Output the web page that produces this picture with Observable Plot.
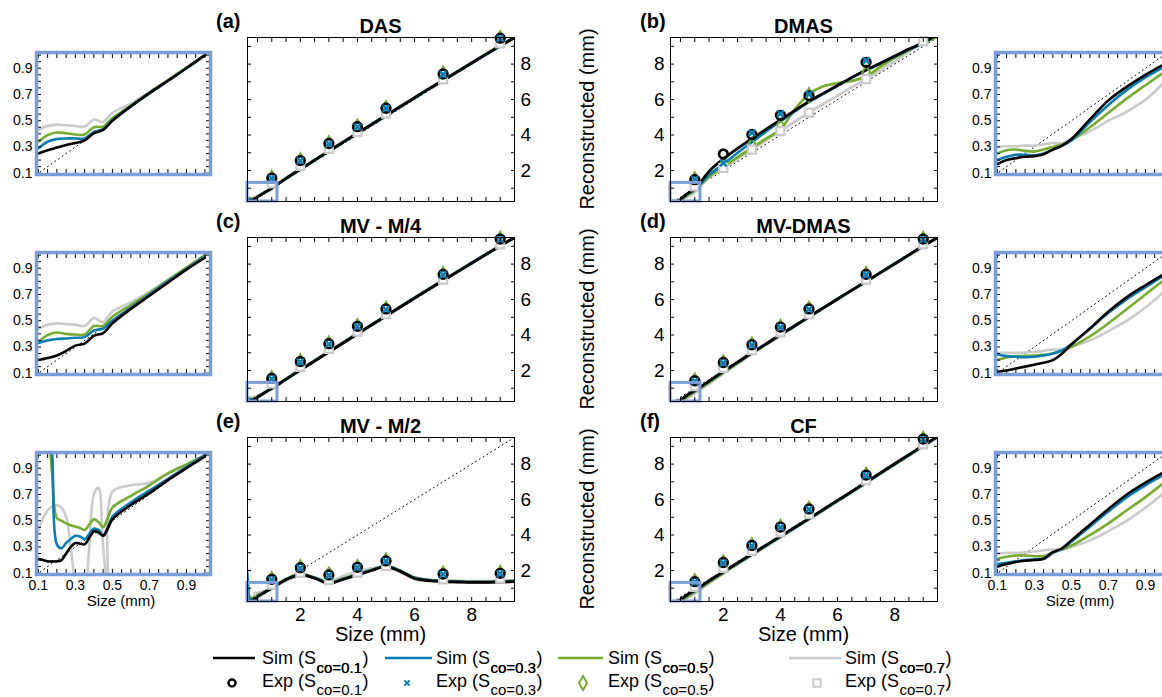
<!DOCTYPE html>
<html><head><meta charset="utf-8">
<script src="https://cdn.jsdelivr.net/npm/d3@7"></script>
<script src="https://cdn.jsdelivr.net/npm/@observablehq/plot@0.6"></script>
<style>
html,body{margin:0;padding:0;background:#fff;overflow:hidden;}
#fig{position:relative;width:1162px;height:697px;overflow:hidden;background:#fff;}
#fig > svg{position:absolute;}
</style></head><body><div id="fig"></div><script>
// ---------------- DATA ----------------
const seriesLabels = ["0.1","0.3","0.5","0.7"];
const panelLetters = ["(a)","(b)","(c)","(d)","(e)","(f)"];
const panelTitles = ["DAS","DMAS","MV - M/4","MV-DMAS","MV - M/2","CF"];
const expX = [1,2,3,4,5,7,9];
const insetX = [0.1,0.15,0.2,0.25,0.3,0.35,0.4,0.45,0.5,0.6,0.7,0.8,0.9,1.0];
const insetXFine = [0.1,0.125,0.15,0.175,0.2,0.225,0.25,0.275,0.3,0.325,0.35,0.375,0.4,0.425,0.45,0.475,0.5,0.6,0.7,0.8,0.9,1.0];
const mainX = [1.5,2,2.5,3,3.5,4,4.5,5,5.5,6,6.5,7,7.5,8,8.5,9,9.5];
const mainTicks = [2,4,6,8];
const insetTicks = [0.1,0.3,0.5,0.7,0.9];
const refMain = [0.1, 9.5];
const refInset = [0.09, 1.03];
const zoomBox = [{x1: 0.15, x2: 1.2, y1: 0.25, y2: 1.3}];

// DAS (a)
const dasInset = [
 [0.25,0.275,0.295,0.315,0.33,0.35,0.405,0.43,0.5,0.61,0.71,0.805,0.9,1.0],
 [0.29,0.34,0.36,0.365,0.365,0.365,0.415,0.435,0.505,0.61,0.71,0.805,0.9,1.0],
 [0.34,0.39,0.41,0.405,0.395,0.395,0.45,0.455,0.52,0.615,0.715,0.81,0.905,1.0],
 [0.43,0.46,0.47,0.465,0.46,0.455,0.51,0.49,0.56,0.63,0.72,0.81,0.905,1.0]];
const dasMain = [
 [1.55,2.07,2.58,3.09,3.6,4.1,4.6,5.1,5.6,6.1,6.6,7.08,7.57,8.06,8.55,9.03,9.5],
 [1.54,2.06,2.57,3.08,3.59,4.09,4.59,5.09,5.59,6.09,6.59,7.07,7.56,8.05,8.54,9.02,9.5],
 [1.56,2.08,2.59,3.1,3.61,4.11,4.61,5.11,5.61,6.11,6.6,7.09,7.58,8.07,8.56,9.04,9.51],
 [1.58,2.1,2.6,3.11,3.62,4.12,4.62,5.12,5.62,6.12,6.61,7.1,7.59,8.08,8.57,9.05,9.52]];
const dasExp = [
 [1.57,2.56,3.52,4.47,5.51,7.44,9.46],
 [1.55,2.55,3.5,4.46,5.5,7.42,9.45],
 [1.6,2.59,3.55,4.5,5.54,7.47,9.49],
 [1.27,2.26,3.22,4.17,5.21,7.14,9.16]];

// DMAS (b)
const dmasInset = [
 [0.17,0.2,0.215,0.225,0.23,0.245,0.28,0.31,0.36,0.51,0.655,0.76,0.85,0.93],
 [0.2,0.225,0.24,0.24,0.235,0.25,0.28,0.31,0.35,0.49,0.62,0.735,0.83,0.91],
 [0.25,0.275,0.28,0.27,0.265,0.28,0.3,0.32,0.35,0.45,0.56,0.67,0.77,0.87],
 [0.3,0.305,0.305,0.31,0.31,0.32,0.33,0.33,0.36,0.42,0.5,0.57,0.66,0.79]];
const dmasMain = [
 [1.95,2.65,3.25,3.8,4.33,4.85,5.38,5.9,6.35,6.8,7.25,7.67,8.05,8.45,8.85,9.2,9.7],
 [1.75,2.35,3.0,3.6,4.2,4.78,5.33,5.87,6.33,6.78,7.23,7.65,8.03,8.43,8.83,9.18,9.68],
 [1.65,2.2,2.75,3.27,3.8,4.32,5.45,6.3,6.75,6.92,7.05,7.3,7.85,8.35,8.8,9.2,9.52],
 [1.6,2.14,2.65,3.18,3.7,4.22,4.75,5.26,5.75,6.22,6.7,7.15,7.65,8.15,8.7,9.29,9.75]];
const dmasExp = [
 [1.48,2.93,4.03,5.11,6.21,8.1,null],
 [1.5,2.42,4.12,5.2,6.3,8.2,null],
 [1.52,2.34,3.47,4.51,6.25,7.54,null],
 [1.1,2.14,3.18,4.22,5.26,7.15,9.29]];

// MV - M/4 (c)
const mv4Inset = [
 [0.2,0.215,0.235,0.27,0.31,0.325,0.385,0.405,0.48,0.59,0.69,0.79,0.89,0.98],
 [0.33,0.35,0.36,0.365,0.37,0.375,0.425,0.44,0.5,0.6,0.7,0.8,0.895,0.99],
 [0.34,0.39,0.41,0.4,0.395,0.395,0.46,0.46,0.53,0.62,0.71,0.81,0.905,1.0],
 [0.44,0.47,0.48,0.475,0.47,0.46,0.52,0.49,0.57,0.64,0.72,0.81,0.905,1.0]];
const mv4Main = [
 [1.5,2.02,2.53,3.04,3.55,4.06,4.57,5.07,5.58,6.08,6.58,7.07,7.56,8.05,8.54,9.02,9.5],
 [1.51,2.03,2.54,3.05,3.56,4.07,4.58,5.08,5.59,6.09,6.59,7.08,7.57,8.06,8.55,9.03,9.5],
 [1.53,2.05,2.56,3.07,3.58,4.08,4.59,5.09,5.6,6.1,6.6,7.09,7.58,8.07,8.56,9.04,9.51],
 [1.55,2.07,2.58,3.09,3.6,4.1,4.6,5.1,5.61,6.11,6.61,7.1,7.59,8.08,8.57,9.05,9.52]];
const mv4Exp = [
 [1.55,2.5,3.51,4.49,5.47,7.42,9.41],
 [1.53,2.48,3.49,4.47,5.45,7.4,9.39],
 [1.58,2.53,3.54,4.52,5.5,7.45,9.44],
 [1.25,2.2,3.21,4.19,5.17,7.12,9.11]];

// MV-DMAS (d)
const mvdInset = [
 [0.11,0.12,0.135,0.15,0.165,0.18,0.2,0.25,0.32,0.44,0.57,0.68,0.77,0.855],
 [0.245,0.23,0.225,0.222,0.225,0.235,0.25,0.275,0.32,0.44,0.56,0.665,0.755,0.845],
 [0.2,0.22,0.23,0.232,0.235,0.24,0.25,0.27,0.3,0.38,0.48,0.59,0.7,0.81],
 [0.255,0.255,0.256,0.258,0.262,0.27,0.28,0.28,0.3,0.35,0.42,0.5,0.6,0.72]];
const mvdMain = [
 [1.4,1.95,2.47,3.0,3.5,4.02,4.52,5.03,5.53,6.03,6.53,7.02,7.52,8.02,8.52,9.02,9.5],
 [1.39,1.94,2.46,2.99,3.5,4.01,4.52,5.02,5.53,6.03,6.53,7.02,7.52,8.02,8.52,9.02,9.5],
 [1.32,1.88,2.42,2.96,3.47,3.99,4.5,5.01,5.52,6.02,6.52,7.01,7.51,8.01,8.51,9.01,9.5],
 [1.25,1.83,2.38,2.93,3.45,3.97,4.48,5.0,5.5,6.0,6.5,7.0,7.5,8.0,8.5,9.0,9.5]];
const mvdExp = [
 [1.42,2.45,3.45,4.45,5.47,7.42,9.41],
 [1.4,2.43,3.43,4.43,5.45,7.4,9.39],
 [1.45,2.48,3.48,4.48,5.5,7.45,9.44],
 [1.12,2.15,3.15,4.15,5.17,7.12,9.11]];

// MV - M/2 (e)
const mv2Inset = [
 [0.21,0.2,0.19,0.19,0.19,0.2,0.25,0.3,0.33,0.325,0.32,0.37,0.42,0.41,0.385,0.44,0.51,0.62,0.71,0.81,0.9,0.99],
 [2.7,2.1,1.5,1.0,0.32,0.29,0.33,0.36,0.385,0.38,0.36,0.4,0.44,0.43,0.39,0.45,0.53,0.64,0.73,0.82,0.91,1.0],
 [2.4,1.9,1.3,0.85,0.52,0.5,0.48,0.465,0.455,0.445,0.43,0.47,0.51,0.49,0.45,0.52,0.6,0.69,0.77,0.86,0.93,1.0],
 [0.42,0.52,0.58,0.61,0.62,0.6,0.53,0.3,0.0,-0.2,-0.1,0.3,0.7,0.75,0.3,0.0,0.72,0.77,0.79,0.86,0.93,1.0]];
const mv2Main = [
 [1.48,1.75,1.56,1.27,1.5,1.75,2.0,2.22,1.95,1.55,1.43,1.37,1.35,1.33,1.33,1.35,1.37],
 [1.5,1.77,1.58,1.3,1.52,1.77,2.02,2.24,1.97,1.58,1.45,1.4,1.38,1.36,1.36,1.38,1.4],
 [1.52,1.8,1.6,1.32,1.55,1.8,2.04,2.26,1.99,1.6,1.47,1.42,1.4,1.38,1.38,1.4,1.42],
 [1.42,1.7,1.6,1.38,1.68,1.95,2.12,2.2,1.9,1.5,1.4,1.35,1.33,1.32,1.32,1.34,1.36]];
const mv2Exp = [
 [1.5,2.16,1.75,2.18,2.54,1.8,1.84],
 [1.48,2.14,1.73,2.16,2.52,1.78,1.82],
 [1.53,2.19,1.78,2.21,2.57,1.83,1.87],
 [1.2,1.86,1.45,1.88,2.24,1.5,1.54]];

// CF (f)
const cfInset = [
 [0.15,0.17,0.185,0.195,0.2,0.21,0.26,0.29,0.35,0.47,0.59,0.7,0.79,0.87],
 [0.17,0.18,0.19,0.2,0.205,0.21,0.255,0.285,0.34,0.455,0.57,0.68,0.77,0.85],
 [0.21,0.225,0.235,0.235,0.23,0.23,0.26,0.28,0.31,0.39,0.48,0.58,0.68,0.79],
 [0.25,0.255,0.255,0.26,0.265,0.275,0.28,0.28,0.3,0.35,0.42,0.5,0.6,0.71]];
const cfMain = [
 [1.42,1.93,2.43,2.93,3.43,3.93,4.43,4.93,5.44,5.95,6.46,6.98,7.5,8.02,8.53,9.05,9.55],
 [1.4,1.91,2.41,2.91,3.41,3.91,4.41,4.91,5.42,5.93,6.44,6.96,7.48,8.0,8.51,9.03,9.53],
 [1.33,1.86,2.37,2.88,3.39,3.89,4.39,4.9,5.4,5.91,6.42,6.94,7.46,7.98,8.49,9.01,9.52],
 [1.28,1.82,2.34,2.85,3.36,3.87,4.38,4.88,5.39,5.9,6.41,6.93,7.45,7.97,8.49,9.01,9.52]];
const cfExp = [
 [1.37,2.45,3.41,4.45,5.47,7.38,9.41],
 [1.35,2.43,3.39,4.43,5.45,7.36,9.39],
 [1.4,2.48,3.44,4.48,5.5,7.41,9.44],
 [1.07,2.15,3.11,4.15,5.17,7.08,9.11]];

// ---------------- STYLE / LAYOUT ----------------
const FONT = '"Liberation Sans", Arial, Helvetica, sans-serif';
const colors = ["#000000","#0a7db2","#77ac30","#cbcbcb"];
const boxColor = "#7b9dd5";
const rowTops = [37, 237, 437];
const colLefts = [247, 670];
const frameW = 267, frameH = 164;
const insetLefts = [36, 995];
const insetW = 174, insetH = 122;
const mainXDomain = [0.15, 9.5], mainYDomain = [0.25, 9.5];
const insetXDomain = [0.09, 1.03], insetYDomain = [0.09, 1.02];
const minorMainX = d3.range(0.5, 9.01, 0.5);
const minorMainY = d3.range(1, 9.01, 1);
const minorInset = d3.range(0.1, 1.001, 0.05);

const panels = [
 {row:0,col:0,inset:dasInset,main:dasMain,exp:dasExp,ix:insetX},
 {row:0,col:1,inset:dmasInset,main:dmasMain,exp:dmasExp,ix:insetX},
 {row:1,col:0,inset:mv4Inset,main:mv4Main,exp:mv4Exp,ix:insetX},
 {row:1,col:1,inset:mvdInset,main:mvdMain,exp:mvdExp,ix:insetX},
 {row:2,col:0,inset:mv2Inset,main:mv2Main,exp:mv2Exp,ix:insetXFine},
 {row:2,col:1,inset:cfInset,main:cfMain,exp:cfExp,ix:insetX}
];

const fig = document.getElementById("fig");
function place(svg, left, top) {
  svg.style.position = "absolute";
  svg.style.left = left + "px";
  svg.style.top = top + "px";
  svg.style.overflow = "visible";
  fig.appendChild(svg);
}
function tickAxes(xt, yt, len, col) {
  const o = {tickSize: -len, tickFormat: () => "", stroke: col, strokeWidth: 1, label: null};
  return [
    Plot.axisX(xt, {anchor: "bottom", ...o}),
    Plot.axisX(xt, {anchor: "top", ...o}),
    Plot.axisY(yt, {anchor: "left", ...o}),
    Plot.axisY(yt, {anchor: "right", ...o})
  ];
}

function lineRows(p, inset) {
  const rows = [];
  for (const s of [3,2,1,0]) {
    p.ix.forEach((x,i) => rows.push({x, y: p.inset[s][i], s: seriesLabels[s]}));
    if (!inset) mainX.forEach((x,i) => rows.push({x, y: p.main[s][i], s: seriesLabels[s]}));
  }
  return rows;
}

function mainPlot(p) {
  const rightAxis = p.col === 0;
  const bottom = p.row === 2;
  const mL = rightAxis ? 6 : 40, mR = rightAxis ? 40 : 6, mT = 12, mB = bottom ? 36 : 6;
  const expRows = s => expX.map((x,i) => ({x, y: p.exp[s][i]})).filter(d => d.y != null);
  const svg = Plot.plot({
    width: frameW + mL + mR, height: frameH + mT + mB,
    marginLeft: mL, marginRight: mR, marginTop: mT, marginBottom: mB,
    x: {domain: mainXDomain, axis: null},
    y: {domain: mainYDomain, axis: null},
    color: {domain: seriesLabels, range: colors},
    style: {fontFamily: FONT, fontSize: "19px", background: "transparent", overflow: "visible", color: "black"},
    marks: [
      Plot.line(refMain, {x: d => d, y: d => d, stroke: "black", strokeWidth: 1, strokeDasharray: "1,3.5", clip: true}),
      Plot.line(lineRows(p, false), {x: "x", y: "y", z: "s", stroke: "s", strokeWidth: 2.8, curve: "catmull-rom", clip: true}),
      Plot.dot(expRows(2), {x: "x", y: "y", symbol: "diamond", r: 4.1, stroke: colors[2], strokeWidth: 2, fill: "none"}),
      Plot.dot(expRows(3), {x: "x", y: "y", symbol: "square", r: 4.5, stroke: colors[3], strokeWidth: 2.2, fill: "white"}),
      Plot.dot(expRows(0), {x: "x", y: "y", symbol: "circle", r: 4.3, stroke: colors[0], strokeWidth: 2.7, fill: "none"}),
      Plot.dot(expRows(1), {x: "x", y: "y", symbol: "times", r: 3.1, stroke: colors[1], strokeWidth: 2.4}),
      Plot.rect(zoomBox, {x1: "x1", x2: "x2", y1: "y1", y2: "y2", stroke: boxColor, strokeWidth: 3, fill: "none"}),
      Plot.frame({stroke: "black", strokeWidth: 1}),
      ...tickAxes(minorMainX, minorMainY, 4, "black"),
      Plot.axisY(mainTicks, {anchor: rightAxis ? "right" : "left", tickSize: 0, tickPadding: 6, fontSize: 19, fontFamily: FONT, label: null}),
      bottom ? Plot.axisX(mainTicks, {anchor: "bottom", tickSize: 0, tickPadding: 6, fontSize: 19, fontFamily: FONT, label: null}) : null
    ]
  });
  place(svg, colLefts[p.col] - mL, rowTops[p.row] - mT);
}

function insetPlot(p) {
  const bottom = p.row === 2;
  const mL = 36, mR = 4, mT = 4, mB = bottom ? 26 : 4;
  const svg = Plot.plot({
    width: insetW + mL + mR, height: insetH + mT + mB,
    marginLeft: mL, marginRight: mR, marginTop: mT, marginBottom: mB,
    x: {domain: insetXDomain, axis: null},
    y: {domain: insetYDomain, axis: null},
    color: {domain: seriesLabels, range: colors},
    style: {fontFamily: FONT, fontSize: "14px", background: "transparent", overflow: "visible", color: "black"},
    marks: [
      Plot.line(refInset, {x: d => d, y: d => d, stroke: "black", strokeWidth: 1, strokeDasharray: "1,3.5", clip: true}),
      Plot.line(lineRows(p, true), {x: "x", y: "y", z: "s", stroke: "s", strokeWidth: 2.6, curve: "catmull-rom", clip: true}),
      ...tickAxes(minorInset, minorInset, 5, "black"),
      Plot.frame({stroke: boxColor, strokeWidth: 3.5}),
      Plot.axisY(insetTicks, {anchor: "left", tickSize: 0, tickPadding: 4, fontSize: 14, fontFamily: FONT, label: null}),
      bottom ? Plot.axisX(insetTicks, {anchor: "bottom", tickSize: 0, tickPadding: 6, fontSize: 14, fontFamily: FONT, label: null}) : null
    ]
  });
  place(svg, insetLefts[p.col] - mL, rowTops[p.row] + 15 - mT);
}

panels.forEach(p => { mainPlot(p); insetPlot(p); });

// ---------------- OVERLAY TEXT & LEGEND ----------------
const ov = d3.select(fig).append("svg")
  .attr("width", 1162).attr("height", 697)
  .style("position", "absolute").style("left", "0px").style("top", "0px")
  .style("font-family", FONT).style("overflow", "hidden");

panels.forEach((p, i) => {
  const cx = colLefts[p.col] + frameW / 2;
  const top = rowTops[p.row];
  ov.append("text").attr("x", cx).attr("y", top - 4).attr("text-anchor", "middle")
    .attr("font-size", 20).attr("font-weight", "bold").text(panelTitles[i]);
  ov.append("text").attr("x", p.col === 0 ? 216 : 640).attr("y", top - 9)
    .attr("font-size", 20).attr("font-weight", "bold").text(panelLetters[i]);
});
rowTops.forEach(t => {
  const cy = t + frameH / 2;
  ov.append("text").attr("transform", `translate(594,${cy}) rotate(-90)`)
    .attr("text-anchor", "middle").attr("font-size", 20).text("Reconstructed (mm)");
});
[colLefts[0] + frameW / 2, colLefts[1] + frameW / 2].forEach(cx => {
  ov.append("text").attr("x", cx).attr("y", 641).attr("text-anchor", "middle").attr("font-size", 20).text("Size (mm)");
});
[insetLefts[0] + insetW / 2 - 2, insetLefts[1] + insetW / 2 - 2].forEach(cx => {
  ov.append("text").attr("x", cx).attr("y", 606).attr("text-anchor", "middle").attr("font-size", 15).text("Size (mm)");
});

// legend
const legCols = [
  {l1: 213, l2: 255, m: 232, t: 262},
  {l1: 385, l2: 432, m: 407, t: 436},
  {l1: 558, l2: 603, m: 583, t: 608},
  {l1: 789, l2: 841, m: 817, t: 845}
];
const symTypes = [d3.symbolCircle, d3.symbolTimes, d3.symbolDiamond, d3.symbolSquare];
const symSizes = [40, 20, 56, 56];
const symWidths = [2.4, 2, 2, 2];
function txt(x, y, size, s) {
  const t = ov.append("text").attr("x", x).attr("y", y).attr("font-size", size).text(s);
  return t.node().getComputedTextLength();
}
seriesLabels.forEach((lab, i) => {
  const c = legCols[i];
  ov.append("line").attr("x1", c.l1).attr("x2", c.l2).attr("y1", 658).attr("y2", 658)
    .attr("stroke", colors[i]).attr("stroke-width", 2.6);
  // row 1: Sim (S_co)
  let x = c.t;
  x += txt(x, 664, 18, "Sim (S");
  const wSub = txt(x + 0.5, 673, 15, "co=" + lab);
  txt(x + wSub + 1, 664, 18, ")");
  ov.append("path").attr("d", d3.symbol(symTypes[i], symSizes[i])())
    .attr("transform", `translate(${c.m},683)`).attr("fill", "none")
    .attr("stroke", colors[i]).attr("stroke-width", symWidths[i]);
  // row 2: Exp (S^co_co) -- superscript shares the row-1 subscript line, as in the original
  x = c.t;
  x += txt(x, 687, 18, "Exp (S");
  const w1 = txt(x + 0.5, 673, 15, "co=" + lab);
  txt(x + 0.5, 695, 15, "co=" + lab);
  txt(x + w1 + 1, 687, 18, ")");
});
</script></body></html>
